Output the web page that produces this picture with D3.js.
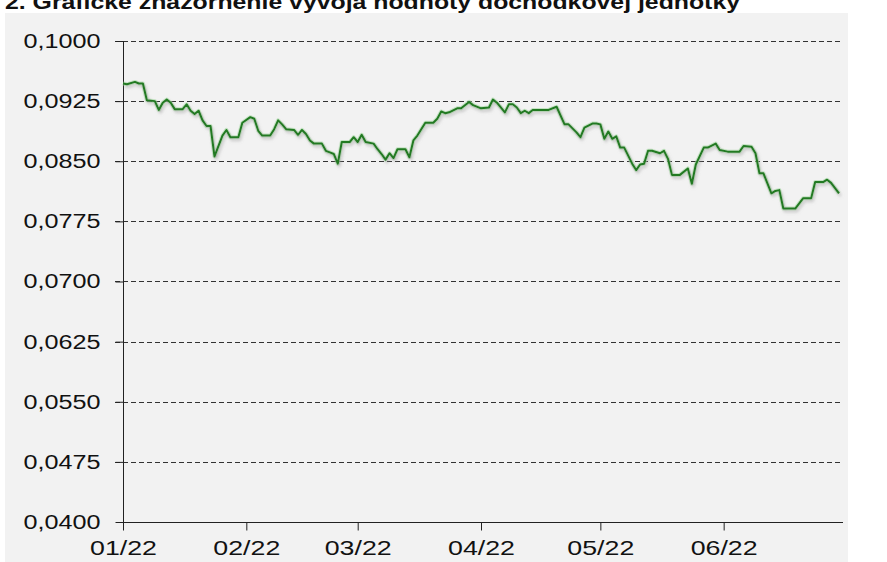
<!doctype html>
<html>
<head>
<meta charset="utf-8">
<style>
  body { margin: 0; background: #fff; }
  svg text { font-family: "Liberation Sans", Arial, sans-serif; fill: #111; }
</style>
</head>
<body>
<div class="container"></div>

<script src="https://d3js.org/d3.v7.min.js"></script>
<script>
// values (daily value of the pension unit, H1 2022)
const dates = [
  '2022-01-01','2022-01-02','2022-01-04','2022-01-05','2022-01-06','2022-01-07','2022-01-09','2022-01-10',
  '2022-01-11','2022-01-12','2022-01-13','2022-01-14','2022-01-16','2022-01-17','2022-01-18','2022-01-19',
  '2022-01-20','2022-01-21','2022-01-22','2022-01-23','2022-01-24','2022-01-26','2022-01-27','2022-01-28',
  '2022-01-30','2022-01-31',
  '2022-02-02','2022-02-03','2022-02-04','2022-02-05','2022-02-07','2022-02-08','2022-02-09','2022-02-10',
  '2022-02-11','2022-02-13','2022-02-14','2022-02-15','2022-02-16','2022-02-17','2022-02-18','2022-02-20',
  '2022-02-21','2022-02-22','2022-02-23','2022-02-24','2022-02-25','2022-02-27','2022-02-28',
  '2022-03-01','2022-03-02','2022-03-03','2022-03-05','2022-03-06','2022-03-07','2022-03-08','2022-03-09',
  '2022-03-10','2022-03-11','2022-03-13','2022-03-14','2022-03-15','2022-03-16','2022-03-18','2022-03-20',
  '2022-03-21','2022-03-22','2022-03-23','2022-03-24','2022-03-26','2022-03-27','2022-03-29','2022-03-30',
  '2022-04-01','2022-04-03','2022-04-04','2022-04-05','2022-04-07','2022-04-08','2022-04-09','2022-04-10',
  '2022-04-11','2022-04-12','2022-04-13','2022-04-14','2022-04-18','2022-04-20','2022-04-22','2022-04-23',
  '2022-04-25','2022-04-26','2022-04-27','2022-04-29','2022-04-30',
  '2022-05-01','2022-05-02','2022-05-03','2022-05-04','2022-05-05','2022-05-06','2022-05-07','2022-05-09',
  '2022-05-10','2022-05-11','2022-05-12','2022-05-13','2022-05-14','2022-05-16','2022-05-17','2022-05-18',
  '2022-05-19','2022-05-21','2022-05-23','2022-05-24','2022-05-25','2022-05-27','2022-05-28','2022-05-30',
  '2022-05-31',
  '2022-06-02','2022-06-05','2022-06-06','2022-06-08','2022-06-09','2022-06-10','2022-06-11','2022-06-13',
  '2022-06-14','2022-06-15','2022-06-16','2022-06-19','2022-06-21','2022-06-23','2022-06-24','2022-06-26',
  '2022-06-27','2022-06-28','2022-06-30'
];
const values = [
  0.0947,0.0946,0.0949,0.0947,0.0947,0.0926,0.0925,0.0914,
  0.0923,0.0927,0.0923,0.0915,0.0915,0.0921,0.0913,0.0909,
  0.0913,0.0901,0.0894,0.0894,0.0856,0.0882,0.0889,0.0880,
  0.0880,0.0898,
  0.0905,0.0903,0.0888,0.0882,0.0882,0.0890,0.0901,0.0896,
  0.0890,0.0889,0.0883,0.0889,0.0884,0.0876,0.0872,0.0872,
  0.0863,0.0861,0.0859,0.0847,0.0874,0.0874,0.0880,
  0.0874,0.0883,0.0874,0.0872,0.0865,0.0859,0.0852,0.0860,
  0.0854,0.0865,0.0865,0.0855,0.0876,0.0882,0.0898,0.0898,
  0.0903,0.0912,0.0910,0.0911,0.0916,0.0916,0.0924,0.0920,
  0.0916,0.0917,0.0927,0.0923,0.0911,0.0921,0.0921,0.0917,
  0.0910,0.0913,0.0910,0.0914,0.0914,0.0918,0.0896,0.0896,
  0.0886,0.0880,0.0892,0.0897,0.0897,
  0.0896,0.0878,0.0887,0.0878,0.0881,0.0867,0.0867,0.0847,
  0.0839,0.0846,0.0847,0.0863,0.0863,0.0860,0.0863,0.0853,
  0.0833,0.0833,0.0841,0.0822,0.0846,0.0867,0.0867,0.0872,
  0.0864,
  0.0862,0.0862,0.0869,0.0868,0.0860,0.0835,0.0835,0.0810,
  0.0813,0.0814,0.0791,0.0791,0.0804,0.0804,0.0824,0.0824,
  0.0827,0.0823,0.0810
];
const yTicks = [0.0400, 0.0475, 0.0550, 0.0625, 0.0700, 0.0775, 0.0850, 0.0925, 0.1000];
const xTicks = ['2022-01-01','2022-02-01','2022-03-01','2022-04-01','2022-05-01','2022-06-01'];
const title = '2. Grafické znázornenie vývoja hodnoty dôchodkovej jednotky';

const W = 887, H = 562;
const parse = d3.utcParse('%Y-%m-%d');
const data = dates.map((d, i) => ({ date: parse(d), value: values[i] }));

const svg = d3.select('.container').append('svg').attr('width', W).attr('height', H);

// grey plot panel
svg.append('rect').attr('x', 5).attr('y', 13).attr('width', 843).attr('height', H - 13).attr('fill', '#f2f2f2');

svg.append('text')
  .attr('x', 5).attr('y', 9)
  .attr('font-size', 20).attr('font-weight', 'bold')
  .attr('textLength', 735).attr('lengthAdjust', 'spacingAndGlyphs')
  .text(title);

const x = d3.scaleUtc().domain([parse('2022-01-01'), parse('2022-07-01')]).range([123, 843]);
const y = d3.scaleLinear().domain([0.04, 0.1]).range([522, 41]);

const comma = d3.formatLocale({ decimal: ',', thousands: ' ', grouping: [3], currency: ['', ''] }).format('.4f');

// dashed grid
svg.append('g').selectAll('line').data(yTicks.slice(1)).enter().append('line')
  .attr('x1', 115).attr('x2', 840)
  .attr('y1', d => Math.round(y(d)) + 0.5).attr('y2', d => Math.round(y(d)) + 0.5)
  .attr('stroke', '#333').attr('stroke-width', 1).attr('stroke-dasharray', '5,3');

// y axis
const yAxis = svg.append('g').attr('transform', 'translate(123.5,0)')
  .call(d3.axisLeft(y).tickValues(yTicks).tickSize(8).tickFormat(comma));
yAxis.select('.domain').attr('stroke', '#222').attr('d', `M0,${y(0.1)}V${y(0.04)}`);
yAxis.selectAll('.tick line').attr('stroke', '#222');
yAxis.selectAll('.tick text')
  .attr('x', -23).attr('font-size', 20).attr('fill', '#111')
  .attr('textLength', 77).attr('lengthAdjust', 'spacingAndGlyphs');

// x axis
const xAxis = svg.append('g').attr('transform', `translate(0,${Math.round(y(0.04)) + 0.5})`)
  .call(d3.axisBottom(x).tickValues(xTicks.map(parse)).tickSize(8).tickFormat(d3.utcFormat('%m/%y')));
xAxis.select('.domain').attr('stroke', '#222').attr('d', `M123,0H843`);
xAxis.selectAll('.tick line').attr('stroke', '#222');
xAxis.selectAll('.tick text')
  .attr('y', 18).attr('font-size', 21).attr('fill', '#111')
  .attr('textLength', 67).attr('lengthAdjust', 'spacingAndGlyphs');

// shadow under the line
const defs = svg.append('defs');
const f = defs.append('filter').attr('id', 'shadow').attr('x', '-5%').attr('y', '-20%').attr('width', '110%').attr('height', '140%');
f.append('feDropShadow').attr('dx', 1.5).attr('dy', 2.5).attr('stdDeviation', 1.6)
  .attr('flood-color', '#8a8a8a').attr('flood-opacity', 0.55);

const line = d3.line().x(d => x(d.date)).y(d => y(d.value));

svg.append('path').datum(data)
  .attr('d', line).attr('fill', 'none')
  .attr('stroke', '#9fd79a').attr('stroke-width', 4).attr('stroke-opacity', 0.55)
  .attr('stroke-linejoin', 'round');

svg.append('path').datum(data)
  .attr('d', line).attr('fill', 'none')
  .attr('stroke', '#217a21').attr('stroke-width', 2)
  .attr('stroke-linejoin', 'round')
  .attr('filter', 'url(#shadow)');
</script>
</body>
</html>
